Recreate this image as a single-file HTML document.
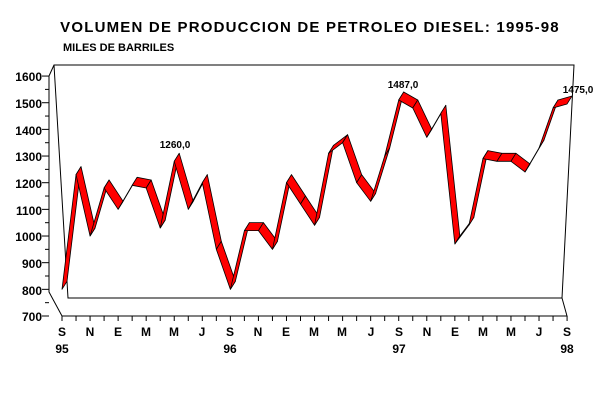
<!DOCTYPE html>
<html><head><style>
body{margin:0;background:#fff;}
svg text{font-family:"Liberation Sans",Arial,sans-serif;font-weight:bold;fill:#000;}
</style></head><body>
<svg width="610" height="412" viewBox="0 0 610 412" xmlns="http://www.w3.org/2000/svg">
<rect width="610" height="412" fill="#fff"/>
<text x="310" y="32" font-size="15" text-anchor="middle" letter-spacing="1.2">VOLUMEN DE PRODUCCION DE PETROLEO DIESEL: 1995-98</text>
<text x="63" y="51" font-size="11">MILES DE BARRILES</text>
<g stroke="#000" stroke-width="1" fill="none">
<polyline points="49,76 54,65 574,65 562,298 68,298 54,65"/>
<polyline points="49,76 49,292 62,316 567,316 562,298"/>
</g>
<g id="yt" stroke="#000" stroke-width="1"></g>
<g id="xt" stroke="#000" stroke-width="1"></g>
<g id="rib" stroke="#000" stroke-width="0.8" fill="#f00" stroke-linejoin="round"></g>
<g font-size="12" text-anchor="end">
<text x="42" y="81">1600</text><text x="42" y="108">1500</text><text x="42" y="135">1400</text>
<text x="42" y="161">1300</text><text x="42" y="188">1200</text><text x="42" y="215">1100</text>
<text x="42" y="241">1000</text><text x="42" y="268">900</text><text x="42" y="295">800</text>
<text x="42" y="321">700</text>
</g>
<g font-size="12" text-anchor="middle">
<text x="62" y="336">S</text><text x="90" y="336">N</text><text x="118" y="336">E</text>
<text x="146" y="336">M</text><text x="174" y="336">M</text><text x="202" y="336">J</text>
<text x="230" y="336">S</text><text x="258" y="336">N</text><text x="286" y="336">E</text>
<text x="314" y="336">M</text><text x="342" y="336">M</text><text x="371" y="336">J</text>
<text x="399" y="336">S</text><text x="427" y="336">N</text><text x="455" y="336">E</text>
<text x="483" y="336">M</text><text x="511" y="336">M</text><text x="539" y="336">J</text>
<text x="567" y="336">S</text>
<text x="62" y="353">95</text><text x="230" y="353">96</text><text x="399" y="353">97</text><text x="567" y="353">98</text>
</g>
<g font-size="10" text-anchor="middle">
<text x="175" y="148">1260,0</text><text x="403" y="88">1487,0</text><text x="578" y="93">1475,0</text>
</g>
<script>
var ns="http://www.w3.org/2000/svg";
function el(p,t,a){var e=document.createElementNS(ns,t);for(var k in a)e.setAttribute(k,a[k]);p.appendChild(e);return e;}
var yt=document.getElementById('yt');
for(var i=0;i<=18;i++){var y=316-i*13.33;el(yt,'line',{x1:i%2?45:42,x2:49,y1:y,y2:y});}
var xt=document.getElementById('xt');
for(var i=0;i<=36;i++){var x=62+i*14.03;el(xt,'line',{x1:x,x2:x,y1:316,y2:321});}
var v=[800,1230,1000,1180,1100,1190,1180,1030,1280,1100,1200,950,800,1020,1020,950,1200,1120,1040,1310,1350,1200,1130,1300,1510,1480,1370,1460,970,1040,1290,1280,1280,1240,1330,1480,1495];
var rib=document.getElementById('rib');
var dx=5,dy=-8;
for(var i=0;i<36;i++){
var x1=62+i*14.03,x2=x1+14.03,y1=316-(v[i]-700)*0.2667,y2=316-(v[i+1]-700)*0.2667;
el(rib,'polygon',{points:x1+','+y1+' '+x2+','+y2+' '+(x2+dx)+','+(y2+dy)+' '+(x1+dx)+','+(y1+dy)});
}
</script>
</svg>
</body></html>
